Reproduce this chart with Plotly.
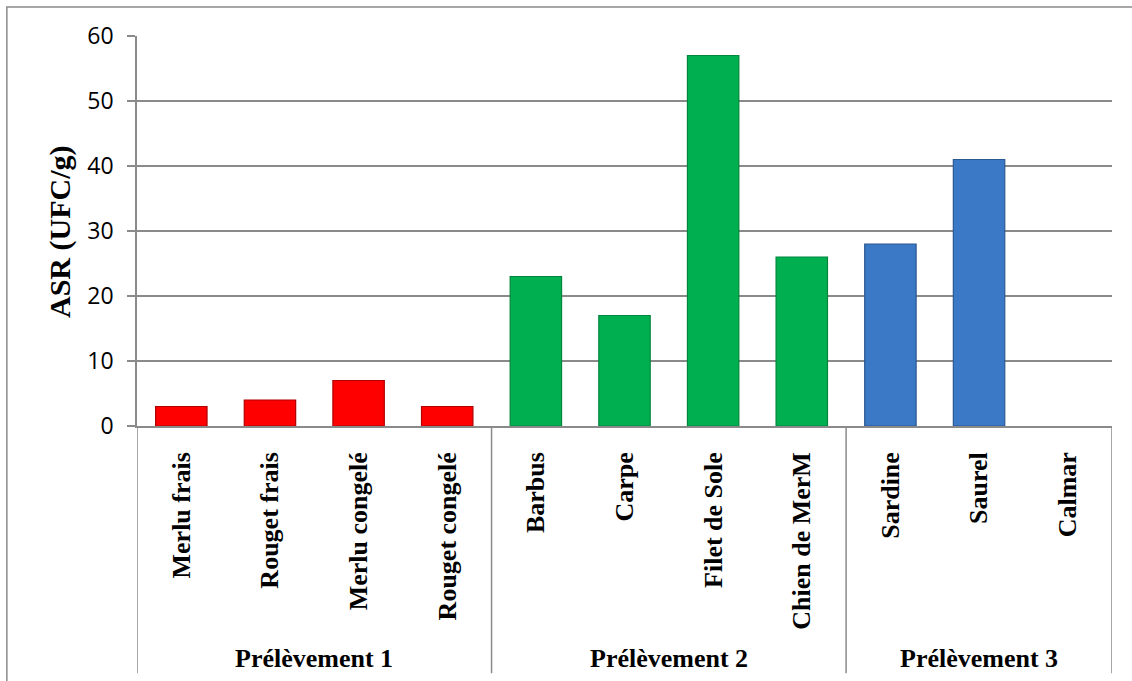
import plotly.graph_objects as go

categories = ["Merlu frais", "Rouget frais", "Merlu congelé", "Rouget congelé",
              "Barbus", "Carpe", "Filet de Sole", "Chien de MerM",
              "Sardine", "Saurel", "Calmar"]
values = [3, 4, 7, 3, 23, 17, 57, 26, 28, 41, 0]
groups = ["Prélèvement 1", "Prélèvement 2", "Prélèvement 3"]
group_sizes = [4, 4, 3]
group_fill = ["#FF0000", "#00B050", "#3B79C6"]
group_edge = ["#B00000", "#00863C", "#2A5890"]
y_ticks = [0, 10, 20, 30, 40, 50, 60]

fills, edges = [], []
for g, n in enumerate(group_sizes):
    fills += [group_fill[g]] * n
    edges += [group_edge[g]] * n
line_w = [0 if v == 0 else 1.2 for v in values]

GRID = "#8A8A8A"
SERIF = "Liberation Serif, Times New Roman, serif"

fig = go.Figure()
fig.add_trace(go.Bar(
    x=categories, y=values,
    marker=dict(color=fills, line=dict(color=edges, width=line_w)),
    hoverinfo="x+y",
))

# separators between groups (category boundaries), extending below the axis
bounds = [-0.5]
acc = -0.5
for n in group_sizes:
    acc += n
    bounds.append(acc)
for b in bounds:
    fig.add_shape(type="line", xref="x", yref="paper", x0=b, x1=b,
                  y0=0, y1=-0.634, line=dict(color=GRID, width=1.5))

# group labels
start = 0
for g, n in zip(groups, group_sizes):
    centre = start + (n - 1) / 2
    fig.add_annotation(x=centre, xref="x", y=-0.596, yref="paper",
                       text=f"<b>{g}</b>", showarrow=False,
                       font=dict(family=SERIF, size=26, color="black"),
                       xanchor="center", yanchor="middle")
    start += n

# outer frame (top and left edges visible)
fig.add_shape(type="rect", xref="paper", yref="paper",
              x0=-0.1335, x1=1.2, y0=1.0745, y1=-1.0,
              line=dict(color=GRID, width=1.5), fillcolor="rgba(0,0,0,0)", layer="below")

fig.add_annotation(x=-0.079, xref="paper", y=0.5, yref="paper",
                   text="<b>ASR (UFC/g)</b>", textangle=-90, showarrow=False,
                   xanchor="center", yanchor="middle",
                   font=dict(family=SERIF, size=30, color="black"))

fig.update_layout(
    width=1132, height=681,
    margin=dict(l=137, r=20, t=36, b=255),
    paper_bgcolor="white", plot_bgcolor="white",
    bargap=0.42,
    showlegend=False,
    xaxis=dict(
        type="category", categoryorder="array", categoryarray=categories,
        range=[-0.5, len(categories) - 0.5],
        tickangle=-90, ticks="", ticklabelstandoff=14,
        tickfont=dict(family=SERIF, size=26, color="black"),
        showgrid=False, showline=True, linecolor=GRID, linewidth=1.5,
        tickprefix="<b>", ticksuffix="</b>",
    ),
    yaxis=dict(
        range=[0, 60], tickvals=y_ticks,
        ticks="outside", ticklen=8, tickcolor=GRID, tickwidth=1.5,
        tickfont=dict(family="Open Sans, Calibri, sans-serif", size=23, color="black"),
        showgrid=True, gridcolor=GRID, gridwidth=1.5,
        showline=True, linecolor=GRID, linewidth=1.5,
        zeroline=False, ticklabelstandoff=9,
    ),
)

fig.write_html("out.html")
